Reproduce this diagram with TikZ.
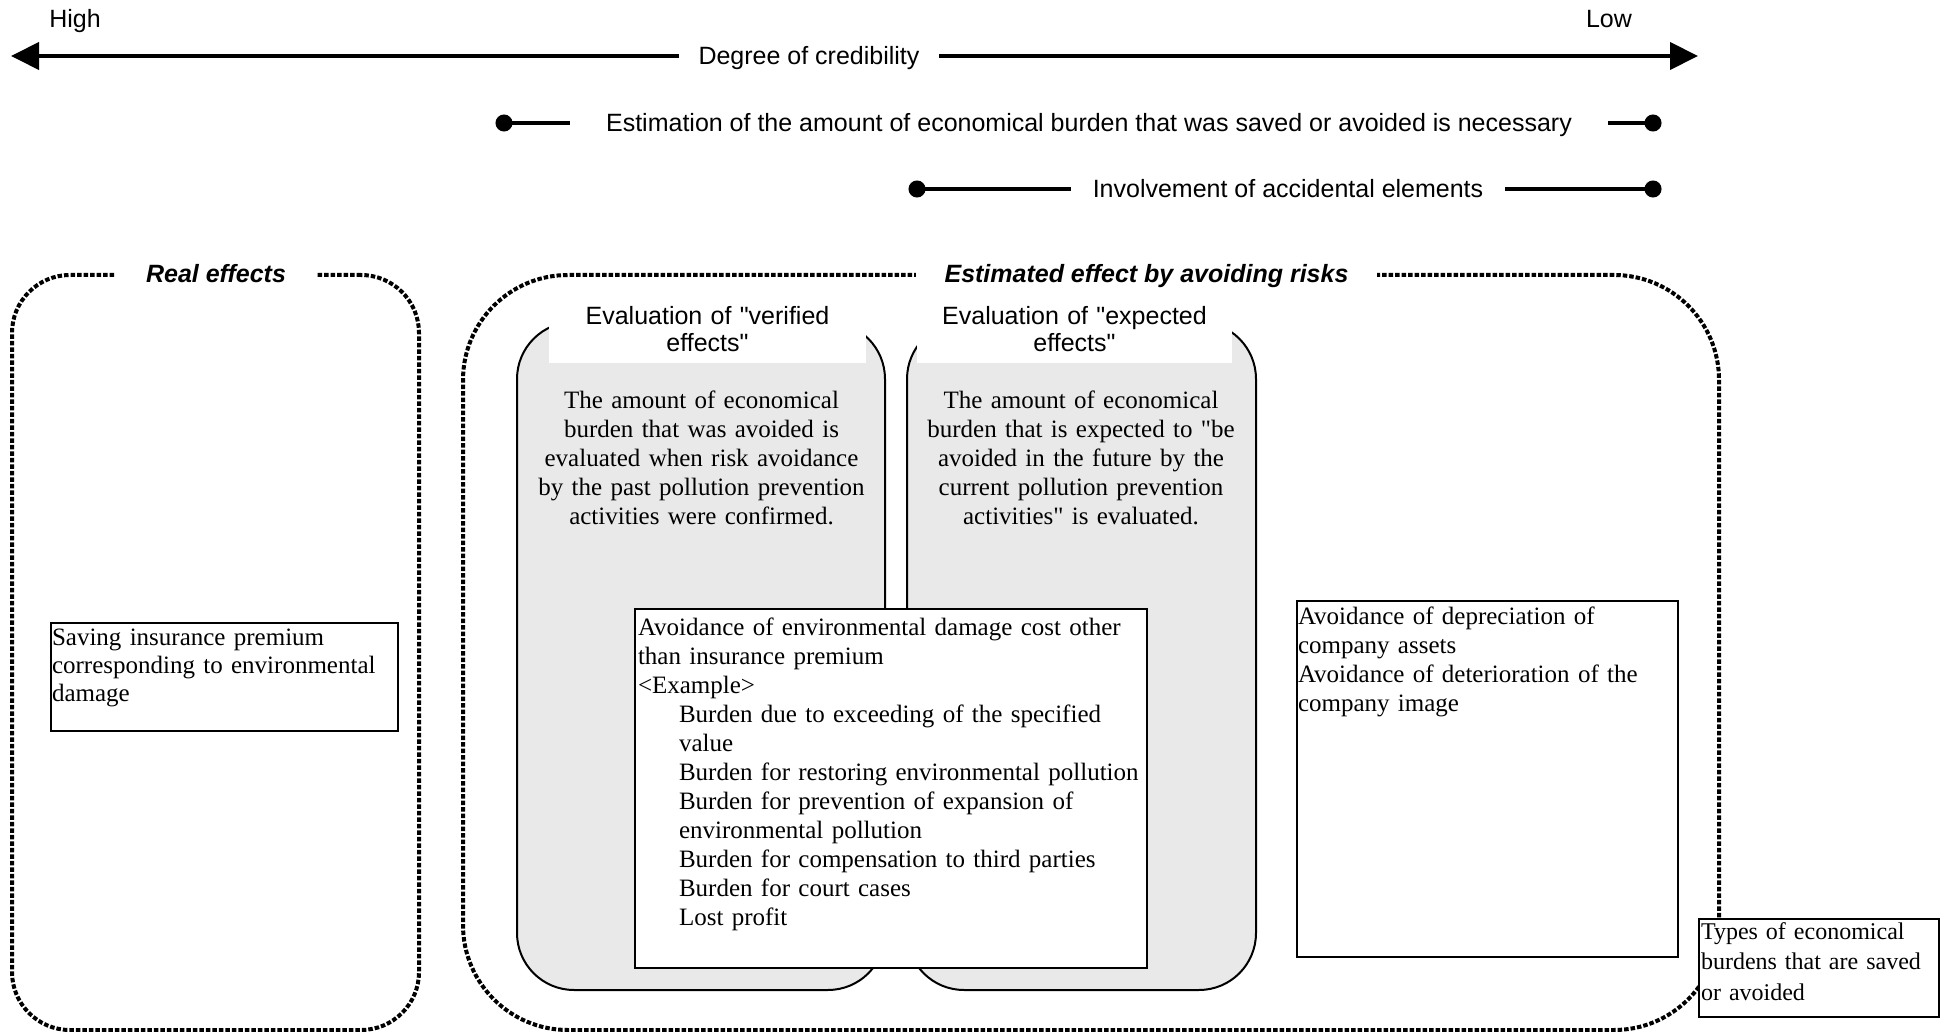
\documentclass[tikz,border=0pt]{standalone}
\usepackage{fontspec}
% plain families: straight double quotes are kept as typed
\newfontfamily\serifface{Liberation Serif}
\newfontfamily\sansface{Liberation Sans}
\usetikzlibrary{arrows.meta}
\definecolor{greyfill}{RGB}{233,233,233}

\begin{document}
\begin{tikzpicture}[x=1pt,y=-1pt,
  every node/.style={inner sep=0pt,outer sep=0pt},
  lab/.style={font=\sansface\fontsize{25}{28}\selectfont,text height=18pt,text depth=0pt},
  boxtitle/.style={font=\sansface\bfseries\itshape\fontsize{25}{28}\selectfont,
    text height=18pt,text depth=0pt,fill=white,inner ysep=4pt},
  heavy/.style={line width=4pt},
  credarrow/.style={heavy,-{Triangle[length=28pt,width=27pt]}},
  dotend/.style={heavy,{Circle[length=17pt,width=17pt]}-},
  dotbox/.style={draw,line width=4pt,dash pattern=on 4.5pt off 2pt},
  greybox/.style={draw,line width=2pt,fill=greyfill,rounded corners=57pt},
  headbox/.style={fill=white,font=\sansface\fontsize{25}{27}\selectfont,align=center},
  plainbox/.style={draw,line width=2pt,fill=white},
  serif/.style={font=\serifface\fontsize{25}{29}\selectfont},
]
% canvas
\fill[white] (0,0) rectangle (1948,1032);
\useasboundingbox (0,0) rectangle (1948,1032);

% credibility scale
\node[lab] (high) at (75,19) {High};
\node[lab] (low) at (1609,19) {Low};
\node[lab,inner xsep=19.5pt] (cred) at (809,56) {Degree of credibility};
\coordinate (hi) at (11,56);
\coordinate (lo) at (1698,56);
\draw[credarrow] (cred.west) -- (hi);
\draw[credarrow] (cred.east) -- (lo);

% ranges
\node[lab,inner xsep=36pt] (est) at (1089,123)
  {Estimation of the amount of economical burden that was saved or avoided is necessary};
\coordinate (estL) at (495.5,123);
\coordinate (estR) at (1661.5,123);
\draw[dotend] (estL) -- (est.west);
\draw[dotend] (estR) -- (est.east);

\node[lab,inner xsep=22pt] (inv) at (1288,189) {Involvement of accidental elements};
\coordinate (invL) at (908.5,189);
\coordinate (invR) at (1661.5,189);
\draw[dotend] (invL) -- (inv.west);
\draw[dotend] (invR) -- (inv.east);

% dotted groups
\node[dotbox,rounded corners=58pt,minimum width=407pt,minimum height=755pt] (real) at (215.5,652.5) {};
\node[dotbox,rounded corners=105pt,minimum width=1256pt,minimum height=755pt] (estim) at (1091,652.5) {};
\node[boxtitle,inner xsep=31pt] (realT) at (216,274) {Real effects};
\node[boxtitle,inner xsep=29pt] (estimT) at (1146.5,274) {Estimated effect by avoiding risks};

% evaluation panels
\node[greybox,minimum width=368pt,minimum height=668pt] (verif) at (701,656) {};
\node[greybox,minimum width=349pt,minimum height=668pt] (expec) at (1081.5,656) {};
\node[headbox,text width=317pt,minimum height=68pt] (verifH) at (707.5,329)
  {Evaluation of "verified\\effects"};
\node[headbox,text width=315pt,minimum height=68pt] (expecH) at (1074.5,329)
  {Evaluation of "expected\\effects"};
\node[serif,text width=360pt,align=center,anchor=base] (verifB) at (701.5,408)
  {The amount of economical\\burden that was avoided is\\evaluated when risk avoidance\\by the past pollution prevention\\activities were confirmed.};
\node[serif,text width=345pt,align=center,anchor=base] (expecB) at (1081,408)
  {The amount of economical\\burden that is expected to "be\\avoided in the future by the\\current pollution prevention\\activities" is evaluated.};

% types of burdens
\node[plainbox,minimum width=512pt,minimum height=359pt] (cbox) at (891,788.5) {};
\node[serif,text width=505pt,align=left,anchor=base west] (cboxT) at (638,635)
  {Avoidance of environmental damage cost other\\
   than insurance premium\\
   <Example>\\
   \hspace*{41pt}Burden due to exceeding of the specified\\
   \hspace*{41pt}value\\
   \hspace*{41pt}Burden for restoring environmental pollution\\
   \hspace*{41pt}Burden for prevention of expansion of\\
   \hspace*{41pt}environmental pollution\\
   \hspace*{41pt}Burden for compensation to third parties\\
   \hspace*{41pt}Burden for court cases\\
   \hspace*{41pt}Lost profit};

\node[plainbox,minimum width=347pt,minimum height=108pt] (lbox) at (224.5,677) {};
\node[font=\serifface\fontsize{25}{28.3}\selectfont,text width=342pt,align=left,anchor=base west] (lboxT) at (52,645)
  {Saving insurance premium\\corresponding to environmental\\damage};

\node[plainbox,minimum width=381pt,minimum height=356pt] (rbox) at (1487.5,779) {};
\node[serif,text width=376pt,align=left,anchor=base west] (rboxT) at (1298,624)
  {Avoidance of depreciation of\\company assets\\Avoidance of deterioration of the\\company image};

\node[plainbox,minimum width=240pt,minimum height=98pt] (tbox) at (1819,968) {};
\node[font=\serifface\fontsize{24}{30.5}\selectfont,text width=234pt,align=left,anchor=base west] (tboxT) at (1701,939)
  {Types of economical\\burdens that are saved\\or avoided};
\end{tikzpicture}
\end{document}
